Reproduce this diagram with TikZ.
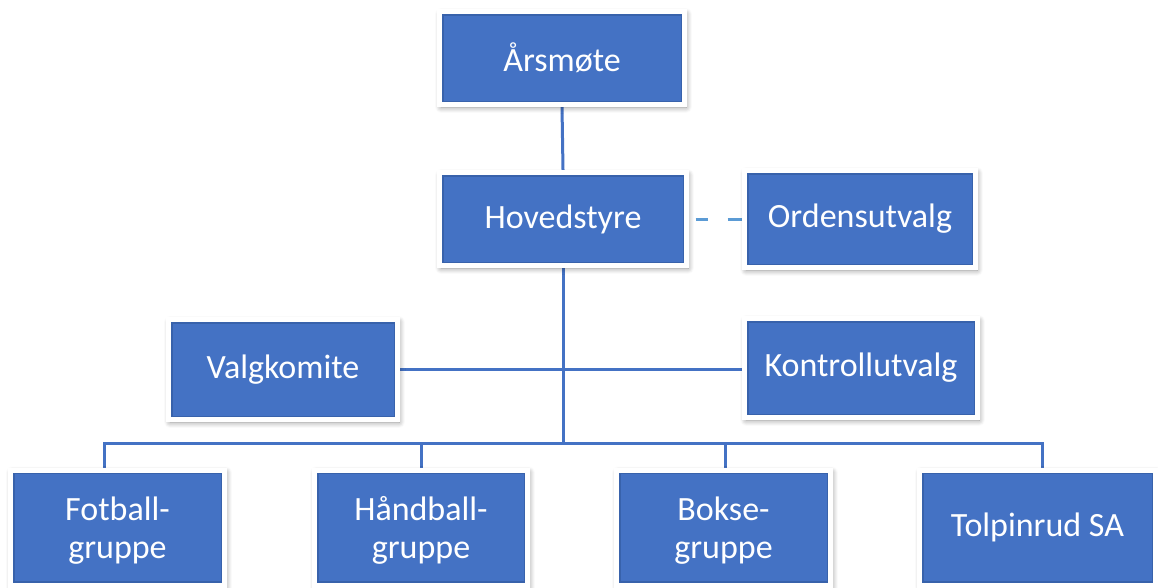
\documentclass[tikz,border=0pt]{standalone}
\usepackage{fontspec}
\setmainfont{Carlito}
\usetikzlibrary{shadows.blur,backgrounds}
\definecolor{boxblue}{HTML}{4472C4}
\definecolor{boxdark}{HTML}{2F5597}
\definecolor{linkblue}{HTML}{4472C4}
\definecolor{dashblue}{HTML}{5B9BD5}
\begin{document}
\begin{tikzpicture}[x=1pt,y=-1pt,
  box/.style={rectangle, fill=boxblue, draw=white, line width=5pt, text=white,
    font=\fontsize{34}{35}\selectfont, align=center, inner sep=0pt,
    path picture={\draw[boxdark, line width=8pt, opacity=.55]
      (path picture bounding box.south west) rectangle (path picture bounding box.north east);},
    blur shadow={shadow xshift=1.5pt, shadow yshift=-2.5pt, shadow blur steps=10,
      shadow blur radius=6pt, shadow opacity=45}},
  twoline/.style={text depth=-4pt, font=\fontsize{34}{38}\selectfont},
  conn/.style={draw=linkblue, line width=3pt},
  dashline/.style={draw=dashblue, line width=3pt,
    dash pattern=on 0pt off 6.5pt on 12pt off 20pt on 16pt off 10pt}]
\useasboundingbox (0,0) rectangle (1158,587);

\node[box, minimum width=245pt, minimum height=93pt] (ars) at (562,58) {Årsmøte};
\node[box, minimum width=247pt, minimum height=93pt] (hov) at (563,219) {Hovedstyre};
\node[box, minimum width=231pt, minimum height=97pt] (ord) at (860,219) {Ordensutvalg};
\node[box, minimum width=229pt, minimum height=100pt] (valg) at (283,369.5) {Valgkomite};
\node[box, minimum width=233pt, minimum height=99pt] (kon) at (861,368) {Kontrollutvalg};
\node[box, twoline, minimum width=214pt, minimum height=115pt] (fot) at (117.5,527.5) {Fotball-\\gruppe};
\node[box, twoline, minimum width=213pt, minimum height=115pt] (hand) at (421,527.5) {Håndball-\\gruppe};
\node[box, twoline, minimum width=214pt, minimum height=115pt] (bok) at (723.5,527.5) {Bokse-\\gruppe};
\node[box, minimum width=236pt, minimum height=115pt] (tol) at (1037.5,527.5) {Tolpinrud SA};

\coordinate (busL) at (104,443);
\coordinate (busR) at (1042,443);

\begin{scope}[on background layer]
\draw[conn] (ars.south) -- (hov.north);
\draw[conn] (hov.south) -- (hov.south |- busL);
\draw[conn] (valg.east) -- (valg.east -| kon.west);
\draw[conn] (fot.north -| busL) -- (busL) -- (busR) -- (tol.north -| busR);
\draw[conn] (hand.north) -- (hand.north |- busL);
\draw[conn] ([xshift=1.5pt]bok.north) -- ([xshift=1.5pt]bok.north |- busL);
\draw[dashline] (hov.east) -- (ord.west);
\end{scope}
\end{tikzpicture}
\end{document}
